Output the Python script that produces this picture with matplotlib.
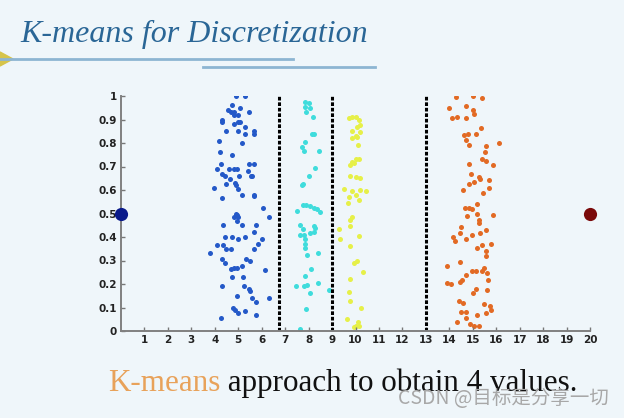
import numpy as np
import matplotlib
matplotlib.use("Agg")
import matplotlib.pyplot as plt
from matplotlib.patches import Polygon
from matplotlib.lines import Line2D

# cluster points (x, y)
blue_x = [4.9, 5.27, 4.73, 5.06, 4.56, 4.7, 4.84, 5.47, 4.32, 4.3, 4.83, 5.0, 4.97, 5.08,
          4.81, 5.27, 4.47, 5.01, 5.3, 5.66, 5.68, 4.19, 5.15, 4.23, 4.73, 4.27, 5.47, 5.66,
          4.1, 4.62, 4.8, 4.94, 4.43, 4.3, 5.41, 5.54, 5.58, 4.64, 5.04, 4.46, 4.87, 4.91,
          4.97, 3.96, 5.15, 5.66, 5.66, 4.3, 6.05, 6.3, 4.9, 4.94, 4.83, 5.01, 4.94, 4.33,
          5.15, 5.75, 5.66, 4.42, 4.73, 4.99, 5.3, 5.84, 6.0, 5.68, 4.09, 4.37, 4.47, 3.79,
          4.68, 5.33, 5.51, 4.32, 4.43, 4.7, 4.8, 4.94, 5.15, 6.13, 4.73, 5.2, 4.3, 5.23,
          5.44, 5.51, 4.94, 5.58, 6.3, 5.77, 4.76, 4.87, 5.0, 5.3, 5.74, 4.27]
blue_y = [1.0, 1.0, 0.96, 0.95, 0.94, 0.93, 0.93, 0.93, 0.90, 0.89, 0.92, 0.92, 0.89, 0.89,
          0.88, 0.87, 0.85, 0.85, 0.84, 0.84, 0.85, 0.81, 0.80, 0.76, 0.75, 0.71, 0.71, 0.71,
          0.69, 0.69, 0.69, 0.69, 0.66, 0.67, 0.68, 0.66, 0.66, 0.645, 0.66, 0.625, 0.63, 0.62,
          0.605, 0.61, 0.58, 0.58, 0.575, 0.565, 0.525, 0.485, 0.50, 0.495, 0.487, 0.487, 0.47, 0.45,
          0.45, 0.45, 0.42, 0.40, 0.40, 0.39, 0.40, 0.37, 0.39, 0.35, 0.365, 0.365, 0.35, 0.33,
          0.35, 0.305, 0.30, 0.305, 0.29, 0.265, 0.27, 0.27, 0.275, 0.26, 0.23, 0.23, 0.19, 0.19,
          0.18, 0.17, 0.15, 0.14, 0.14, 0.125, 0.097, 0.09, 0.077, 0.087, 0.066, 0.054]

cyan_x = [7.86, 8.0, 7.86, 8.06, 7.9, 8.19, 8.22, 8.15, 7.86, 7.72, 8.43, 7.82, 8.26, 8.0,
          7.76, 7.72, 7.76, 7.9, 8.08, 8.22, 7.5, 8.36, 8.5, 7.65, 7.78, 7.62, 7.79, 8.22,
          8.29, 8.08, 8.22, 7.86, 7.83, 7.86, 8.4, 7.93, 8.1, 7.83, 7.46, 7.79, 7.93, 8.4,
          8.08, 8.86, 7.89, 7.65]
cyan_y = [0.975, 0.97, 0.955, 0.95, 0.93, 0.91, 0.84, 0.84, 0.805, 0.785, 0.765, 0.765, 0.695, 0.66,
          0.625, 0.62, 0.535, 0.535, 0.53, 0.525, 0.51, 0.52, 0.505, 0.45, 0.435, 0.41, 0.41, 0.445,
          0.44, 0.415, 0.42, 0.39, 0.37, 0.355, 0.33, 0.325, 0.265, 0.235, 0.19, 0.19, 0.195, 0.205,
          0.16, 0.175, 0.094, 0.01]

yellow_x = [9.71, 9.85, 10.0, 10.14, 10.21, 10.07, 9.85, 10.19, 10.0, 9.85, 10.07, 10.1, 9.85, 10.0,
            9.78, 10.14, 9.93, 9.78, 10.0, 10.19, 9.5, 9.85, 10.19, 10.43, 9.71, 10.0, 9.69, 10.17,
            9.85, 9.78, 9.29, 9.36, 9.78, 10.14, 9.78, 10.07, 9.93, 10.33, 9.78, 9.71, 9.78, 10.24,
            9.64, 10.1, 10.0, 9.93, 10.14]
yellow_y = [0.905, 0.91, 0.91, 0.9, 0.875, 0.87, 0.85, 0.845, 0.83, 0.82, 0.825, 0.79, 0.72, 0.73,
            0.705, 0.73, 0.715, 0.66, 0.655, 0.65, 0.605, 0.595, 0.6, 0.595, 0.57, 0.58, 0.545, 0.557,
            0.487, 0.473, 0.433, 0.39, 0.445, 0.405, 0.36, 0.296, 0.289, 0.25, 0.22, 0.165, 0.127, 0.098,
            0.05, 0.04, 0.02, 0.015, 0.02]

orange_x = [14.27, 15.0, 15.4, 13.99, 14.73, 15.0, 15.06, 14.13, 14.34, 14.7, 15.34, 14.63, 14.8, 15.13,
            14.7, 14.82, 16.1, 15.58, 15.53, 15.4, 15.56, 15.87, 14.84, 14.94, 15.26, 15.33, 15.05, 14.84,
            15.7, 14.59, 15.44, 15.7, 15.2, 14.66, 14.84, 14.98, 14.77, 15.17, 15.26, 15.26, 15.88, 14.52,
            14.46, 14.17, 14.23, 14.7, 14.98, 15.31, 15.56, 15.41, 15.2, 15.56, 15.77, 15.58, 13.89, 14.46,
            14.7, 14.98, 15.13, 15.41, 15.62, 15.48, 14.56, 14.46, 13.92, 14.09, 15.13, 15.0, 15.65, 15.62,
            14.42, 14.59, 14.49, 14.7, 15.48, 15.74, 15.77, 15.56, 15.16, 14.7, 14.34, 14.88, 15.05, 15.26]
orange_y = [0.995, 1.0, 0.993, 0.95, 0.956, 0.94, 0.925, 0.905, 0.91, 0.905, 0.862, 0.833, 0.838, 0.838,
            0.812, 0.79, 0.8, 0.787, 0.763, 0.734, 0.724, 0.706, 0.71, 0.67, 0.656, 0.645, 0.635, 0.625,
            0.642, 0.6, 0.589, 0.607, 0.54, 0.525, 0.522, 0.518, 0.49, 0.497, 0.473, 0.459, 0.494, 0.442,
            0.416, 0.402, 0.381, 0.391, 0.41, 0.419, 0.43, 0.367, 0.353, 0.339, 0.37, 0.32, 0.275, 0.292,
            0.24, 0.254, 0.254, 0.257, 0.247, 0.268, 0.218, 0.207, 0.204, 0.202, 0.179, 0.162, 0.218, 0.176,
            0.127, 0.12, 0.08, 0.081, 0.117, 0.105, 0.091, 0.077, 0.066, 0.056, 0.037, 0.028, 0.023, 0.023]

# the two end values and the cut points between clusters
end_x = [0, 20]
end_y = [0.5, 0.5]
boundaries = [6.75, 9, 13]

x_ticks = list(range(1, 21))
y_ticks = [0, 0.1, 0.2, 0.3, 0.4, 0.5, 0.6, 0.7, 0.8, 0.9, 1]
y_labels = ['0', '0.1', '0.2', '0.3', '0.4', '0.5', '0.6', '0.7', '0.8', '0.9', '1']

BG = '#eff6fa'
fig = plt.figure(figsize=(6.24, 4.18), dpi=100, facecolor=BG)

# title + decorative lines of the slide
fig.text(20 / 624, 1 - 42 / 418, 'K-means for Discretization', family='Liberation Serif',
         style='italic', fontsize=23, color='#2a6696', va='baseline', ha='left')
fig.add_artist(Line2D([0, 293 / 624], [1 - 59 / 418] * 2, color='#8db5d2', lw=2))
fig.add_artist(Line2D([203 / 624, 375 / 624], [1 - 66.5 / 418] * 2, color='#8db5d2', lw=2))
fig.add_artist(Polygon([[0, 1 - 52 / 418], [13 / 624, 1 - 59 / 418], [0, 1 - 66 / 418]],
                       closed=True, color='#d6c44a', transform=fig.transFigure))

ax = fig.add_axes([121 / 624, 1 - 331 / 418, 469 / 624, 235 / 418])
ax.set_facecolor(BG)

ms = 13
ax.scatter(blue_x, blue_y, s=ms, color='#2459c8', lw=0)
ax.scatter(cyan_x, cyan_y, s=ms, color='#3fdcdc', lw=0)
ax.scatter(yellow_x, yellow_y, s=ms, color='#e6f048', lw=0)
ax.scatter(orange_x, orange_y, s=ms, color='#e26a24', lw=0)
ax.scatter(end_x[:1], end_y[:1], s=90, color='#0a1a8a', lw=0, clip_on=False, zorder=5)
ax.scatter(end_x[1:], end_y[1:], s=90, color='#7a0a0a', lw=0, clip_on=False, zorder=5)

for b in boundaries:
    ax.plot([b, b], [0, 1], color='black', lw=2.2, ls=(0, (1.2, 0.6)))

ax.set_xlim(0, 20)
ax.set_ylim(0, 1)
ax.set_xticks(x_ticks)
ax.set_yticks(y_ticks)
ax.set_yticklabels(y_labels)
ax.tick_params(direction='in', length=3, width=1, color='#777777', labelsize=7.5,
               labelcolor='#222222', pad=3)
for lab in ax.get_xticklabels() + ax.get_yticklabels():
    lab.set_fontweight('bold')
for s in ['top', 'right']:
    ax.spines[s].set_visible(False)
for s in ['left', 'bottom']:
    ax.spines[s].set_color('#808080')
    ax.spines[s].set_linewidth(1.4)

# caption
t1 = fig.text(108 / 624, 1 - 391 / 418, 'K-means', family='Liberation Serif', fontsize=22.4,
              color='#e8a25a', va='baseline', ha='left')
ax.annotate(' approach to obtain 4 values.', xy=(1, 0), xycoords=t1, va='bottom', ha='left',
            family='Liberation Serif', fontsize=22.4, color='#111111', annotation_clip=False)

fig.text(398 / 624, 1 - 398 / 418, 'CSDN @目标是分享一切',
         family=['Noto Sans CJK SC', 'DejaVu Sans'], fontsize=14, color='#a8a8a8',
         va='center', ha='left')

fig.savefig('out.png', dpi=100, facecolor=BG)
